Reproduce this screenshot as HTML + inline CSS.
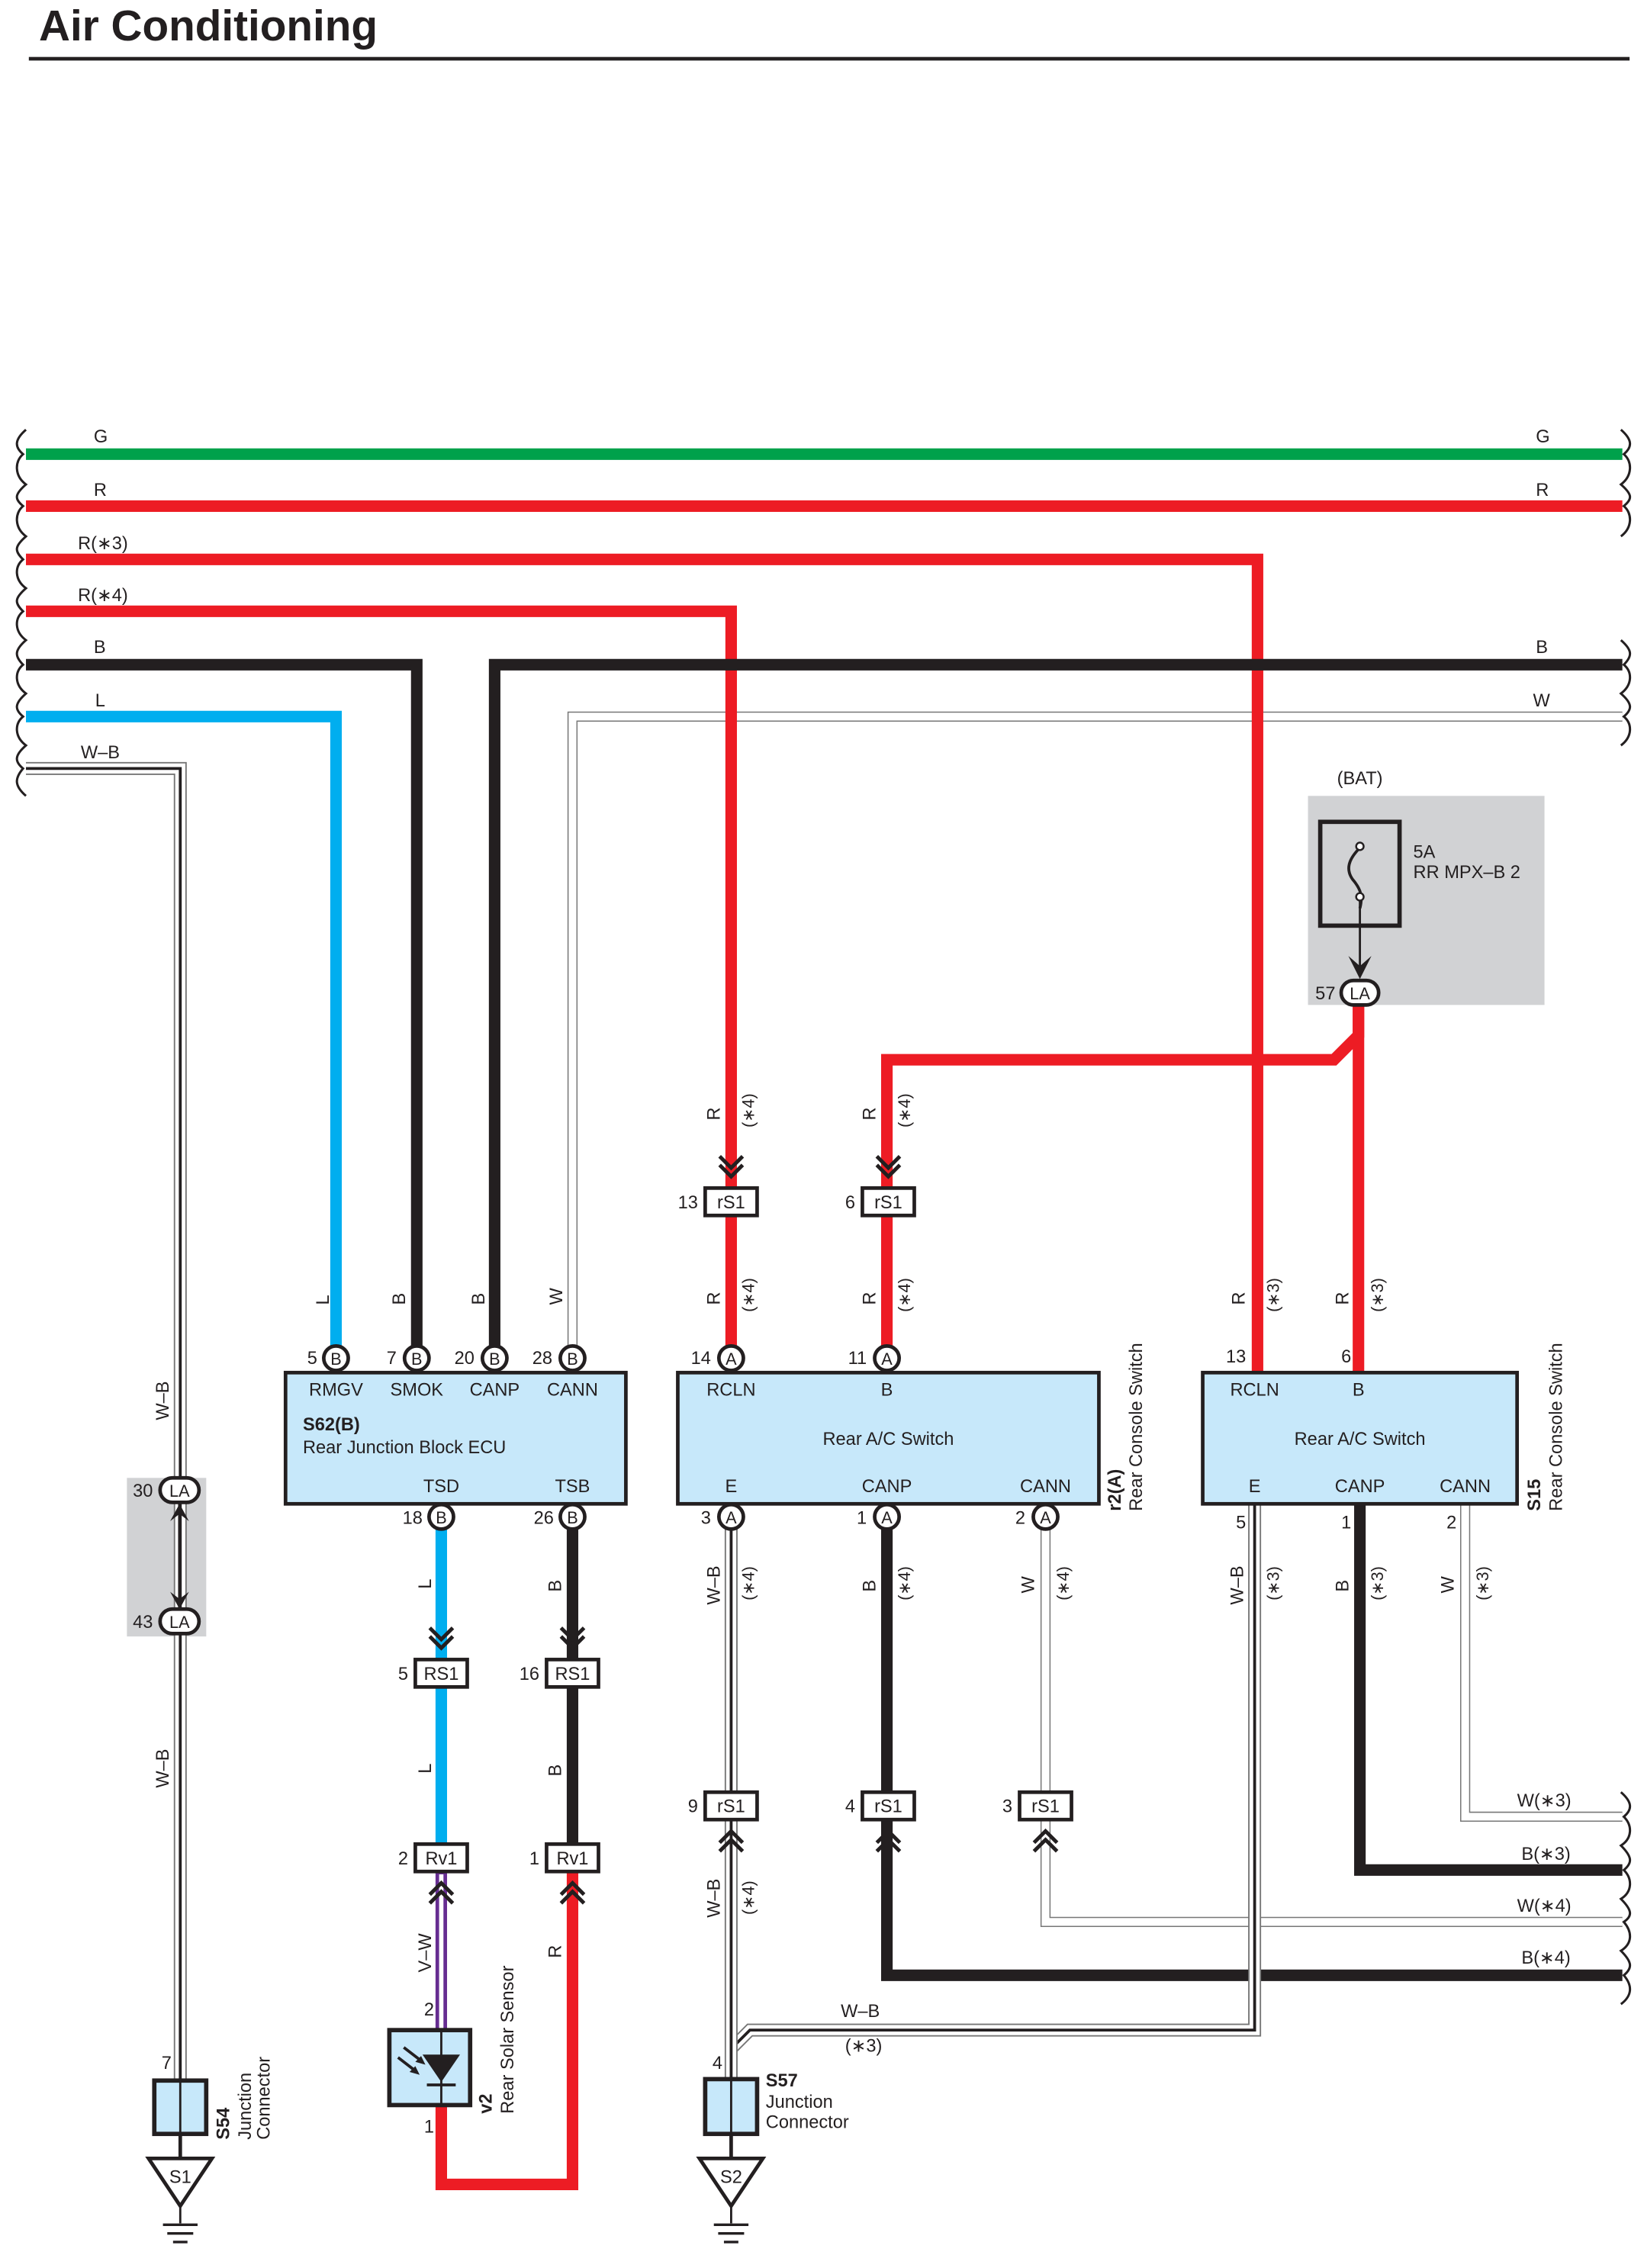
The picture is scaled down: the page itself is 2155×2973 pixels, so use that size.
<!DOCTYPE html>
<html><head><meta charset="utf-8"><style>
html,body{margin:0;padding:0;background:#fff}
svg{display:block}
text{font-family:"Liberation Sans",Arial,sans-serif;fill:#231f20}
.t{font-size:12.5px}
.s{font-size:11.5px}
.b{font-weight:bold}
</style></head><body>
<svg width="2155" height="2973" viewBox="0 0 1140 1573" preserveAspectRatio="none" xmlns="http://www.w3.org/2000/svg">
<defs>
<g id="dn"><polyline points="-8,-22 0,-14 8,-22" fill="none" stroke="#231f20" stroke-width="2.6"/><polyline points="-8,-16 0,-8 8,-16" fill="none" stroke="#231f20" stroke-width="2.6"/></g>
<g id="up"><polyline points="-8,22 0,14 8,22" fill="none" stroke="#231f20" stroke-width="2.6"/><polyline points="-8,16 0,8 8,16" fill="none" stroke="#231f20" stroke-width="2.6"/></g>
</defs>
<text x="27" y="28" font-size="30" class="b" style="font-size:30px">Air Conditioning</text>
<rect x="20" y="39.5" width="1110" height="2.5" fill="#231f20"/>

<!-- gray boxes -->
<rect x="907" y="552" width="164" height="145" fill="#d1d2d4"/>
<rect x="88" y="1025" width="55" height="110" fill="#d1d2d4"/>

<!-- W-B left -->
<g fill="none" stroke-linejoin="miter">
<polyline points="18,533 125,533 125,1445" stroke="#777" stroke-width="9"/>
<polyline points="18,533 125,533 125,1445" stroke="#fff" stroke-width="7"/>
<polyline points="18,533 125,533 125,1445" stroke="#231f20" stroke-width="2"/>
<!-- W top -->
<polyline points="1125,497 397,497 397,942" stroke="#777" stroke-width="7"/>
<polyline points="1125,497 397,497 397,942" stroke="#fff" stroke-width="5.4"/>
<!-- main wires -->
<line x1="18" y1="315" x2="1125" y2="315" stroke="#00a14b" stroke-width="8"/>
<line x1="18" y1="351" x2="1125" y2="351" stroke="#ed1c24" stroke-width="8"/>
<polyline points="18,388 872,388 872,952" stroke="#ed1c24" stroke-width="8"/>
<polyline points="18,424 507,424 507,942" stroke="#ed1c24" stroke-width="8"/>
<polyline points="18,461 289,461 289,942" stroke="#231f20" stroke-width="8"/>
<polyline points="1125,461 343,461 343,942" stroke="#231f20" stroke-width="8"/>
<polyline points="18,497 233,497 233,942" stroke="#00aeef" stroke-width="8"/>
<polyline points="615,942 615,735 925,735 942,718 942,688" stroke="#ed1c24" stroke-width="8"/>
<line x1="942" y1="688" x2="942" y2="952" stroke="#ed1c24" stroke-width="8"/>
<!-- S62 bottom -->
<line x1="306" y1="1052" x2="306" y2="1288" stroke="#00aeef" stroke-width="8"/>
<line x1="397" y1="1052" x2="397" y2="1288" stroke="#231f20" stroke-width="8"/>
<polyline points="397,1288 397,1515 306,1515 306,1460" stroke="#ed1c24" stroke-width="8"/>
<line x1="306" y1="1288" x2="306" y2="1408" stroke="#662d91" stroke-width="8"/>
<line x1="306" y1="1300" x2="306" y2="1408" stroke="#fff" stroke-width="3"/>
<!-- r2 bottom -->
<polyline points="615,1052 615,1370 1125,1370" stroke="#231f20" stroke-width="8"/>
<polyline points="725,1052 725,1333 1125,1333" stroke="#777" stroke-width="7"/>
<polyline points="725,1052 725,1333 1125,1333" stroke="#fff" stroke-width="5.4"/>
<!-- S15 bottom -->
<polyline points="943,1043 943,1297 1125,1297" stroke="#231f20" stroke-width="8"/>
<polyline points="1016,1043 1016,1260 1125,1260" stroke="#777" stroke-width="7"/>
<polyline points="1016,1043 1016,1260 1125,1260" stroke="#fff" stroke-width="5.4"/>
<polyline points="870,1043 870,1408 520,1408 507,1421" stroke="#777" stroke-width="9"/>
<polyline points="870,1043 870,1408 520,1408 507,1421" stroke="#fff" stroke-width="7"/>
<polyline points="870,1043 870,1408 520,1408 507,1421" stroke="#231f20" stroke-width="2"/>
<polyline points="507,1052 507,1445" stroke="#777" stroke-width="9"/>
<polyline points="507,1052 507,1445" stroke="#fff" stroke-width="7"/>
<polyline points="507,1052 507,1445" stroke="#231f20" stroke-width="2"/>
</g>

<!-- wavy ends -->
<g fill="none" stroke="#231f20" stroke-width="1.6">
<path d="M18,298 C10,305 10,310 16,315 C10,320 10,330 18,336 C10,343 10,346 16,351 C10,356 10,366 18,372 C10,379 10,382 16,388 C10,393 10,402 18,408 C10,415 10,418 16,424 C10,429 10,438 18,444 C10,451 10,455 16,461 C10,466 10,475 18,481 C10,488 10,492 16,497 C10,502 10,511 18,517 C10,524 10,528 16,533 C10,540 10,545 18,552"/>
<path d="M1124,298 C1132,305 1132,310 1126,315 C1132,320 1132,330 1124,336 C1132,343 1132,346 1126,351 C1132,356 1132,366 1124,372"/>
<path d="M1124,444 C1132,451 1132,455 1126,461 C1132,466 1132,475 1124,481 C1132,488 1132,492 1126,497 C1132,502 1132,511 1124,517"/>
<path d="M1124,1243 C1132,1250 1132,1255 1126,1260 C1132,1266 1132,1275 1124,1280 C1132,1288 1132,1292 1126,1297 C1132,1303 1132,1312 1124,1317 C1132,1325 1132,1329 1126,1333 C1132,1340 1132,1348 1124,1353 C1132,1361 1132,1365 1126,1370 C1132,1377 1132,1384 1124,1390"/>
</g>

<!-- top wire labels -->
<g class="t">
<text x="65" y="307" class="t">G</text><text x="1065" y="307" class="t">G</text>
<text x="65" y="344" class="t">R</text><text x="1065" y="344" class="t">R</text>
<text x="54" y="381" class="t">R(∗3)</text>
<text x="54" y="417" class="t">R(∗4)</text>
<text x="65" y="453" class="t">B</text><text x="1065" y="453" class="t">B</text>
<text x="66" y="490" class="t">L</text><text x="1063" y="490" class="t">W</text>
<text x="56" y="526" class="t">W–B</text>
<text x="1052" y="1253" class="t">W(∗3)</text>
<text x="1055" y="1290" class="t">B(∗3)</text>
<text x="1052" y="1326" class="t">W(∗4)</text>
<text x="1055" y="1362" class="t">B(∗4)</text>
<text x="583" y="1399" class="t">W–B</text>
<text x="586" y="1423" class="t">(∗3)</text>
</g>

<!-- vertical labels -->
<g class="t">
<text transform="translate(228,905) rotate(-90)" class="t">L</text>
<text transform="translate(281,905) rotate(-90)" class="t">B</text>
<text transform="translate(336,905) rotate(-90)" class="t">B</text>
<text transform="translate(390,905) rotate(-90)" class="t">W</text>
<text transform="translate(499,777) rotate(-90)" class="t">R</text>
<text transform="translate(523,782) rotate(-90)" class="s">(∗4)</text>
<text transform="translate(607,777) rotate(-90)" class="t">R</text>
<text transform="translate(631,782) rotate(-90)" class="s">(∗4)</text>
<text transform="translate(499,905) rotate(-90)" class="t">R</text>
<text transform="translate(523,910) rotate(-90)" class="s">(∗4)</text>
<text transform="translate(607,905) rotate(-90)" class="t">R</text>
<text transform="translate(631,910) rotate(-90)" class="s">(∗4)</text>
<text transform="translate(863,905) rotate(-90)" class="t">R</text>
<text transform="translate(887,910) rotate(-90)" class="s">(∗3)</text>
<text transform="translate(935,905) rotate(-90)" class="t">R</text>
<text transform="translate(959,910) rotate(-90)" class="s">(∗3)</text>
<text transform="translate(117,985) rotate(-90)" class="t">W–B</text>
<text transform="translate(117,1240) rotate(-90)" class="t">W–B</text>
<text transform="translate(299,1102) rotate(-90)" class="t">L</text>
<text transform="translate(389,1104) rotate(-90)" class="t">B</text>
<text transform="translate(299,1230) rotate(-90)" class="t">L</text>
<text transform="translate(389,1232) rotate(-90)" class="t">B</text>
<text transform="translate(299,1368) rotate(-90)" class="t">V–W</text>
<text transform="translate(389,1358) rotate(-90)" class="t">R</text>
<text transform="translate(499,1113) rotate(-90)" class="t">W–B</text>
<text transform="translate(523,1110) rotate(-90)" class="s">(∗4)</text>
<text transform="translate(607,1104) rotate(-90)" class="t">B</text>
<text transform="translate(631,1110) rotate(-90)" class="s">(∗4)</text>
<text transform="translate(717,1105) rotate(-90)" class="t">W</text>
<text transform="translate(741,1110) rotate(-90)" class="s">(∗4)</text>
<text transform="translate(499,1330) rotate(-90)" class="t">W–B</text>
<text transform="translate(523,1328) rotate(-90)" class="s">(∗4)</text>
<text transform="translate(862,1113) rotate(-90)" class="t">W–B</text>
<text transform="translate(887,1110) rotate(-90)" class="s">(∗3)</text>
<text transform="translate(935,1104) rotate(-90)" class="t">B</text>
<text transform="translate(959,1110) rotate(-90)" class="s">(∗3)</text>
<text transform="translate(1008,1105) rotate(-90)" class="t">W</text>
<text transform="translate(1032,1110) rotate(-90)" class="s">(∗3)</text>
</g>

<!-- component boxes -->
<rect x="198" y="952" width="236" height="91" fill="#c7e8fa" stroke="#231f20" stroke-width="2.5"/>
<rect x="470" y="952" width="292" height="91" fill="#c7e8fa" stroke="#231f20" stroke-width="2.5"/>
<rect x="834" y="952" width="218" height="91" fill="#c7e8fa" stroke="#231f20" stroke-width="2.5"/>
<g class="t" text-anchor="middle">
<text x="233" y="968">RMGV</text><text x="289" y="968">SMOK</text><text x="343" y="968">CANP</text><text x="397" y="968">CANN</text>
<text x="306" y="1035">TSD</text><text x="397" y="1035">TSB</text>
<text x="507" y="968">RCLN</text><text x="615" y="968">B</text>
<text x="616" y="1002">Rear A/C Switch</text>
<text x="507" y="1035">E</text><text x="615" y="1035">CANP</text><text x="725" y="1035">CANN</text>
<text x="870" y="968">RCLN</text><text x="942" y="968">B</text>
<text x="943" y="1002">Rear A/C Switch</text>
<text x="870" y="1035">E</text><text x="943" y="1035">CANP</text><text x="1016" y="1035">CANN</text>
</g>
<text x="210" y="992" class="t b">S62(B)</text>
<text x="210" y="1008" class="t">Rear Junction Block ECU</text>
<text transform="translate(777,1048) rotate(-90)" class="t b">r2(A)</text>
<text transform="translate(792,1048) rotate(-90)" class="t">Rear Console Switch</text>
<text transform="translate(1068,1048) rotate(-90)" class="t b">S15</text>
<text transform="translate(1083,1048) rotate(-90)" class="t">Rear Console Switch</text>

<!-- pin circles -->
<g fill="#fff" stroke="#231f20" stroke-width="2.5">
<circle cx="233" cy="942" r="8.5"/><circle cx="289" cy="942" r="8.5"/><circle cx="343" cy="942" r="8.5"/><circle cx="397" cy="942" r="8.5"/>
<circle cx="306" cy="1052" r="8.5"/><circle cx="397" cy="1052" r="8.5"/>
<circle cx="507" cy="942" r="8.5"/><circle cx="615" cy="942" r="8.5"/>
<circle cx="507" cy="1052" r="8.5"/><circle cx="615" cy="1052" r="8.5"/><circle cx="725" cy="1052" r="8.5"/>
<rect x="930" y="680" width="26" height="17" rx="8.5"/>
<rect x="111" y="1025" width="27" height="17" rx="8.5"/>
<rect x="111" y="1116" width="27" height="17" rx="8.5"/>
</g>
<g class="s" text-anchor="middle">
<text x="233" y="946.5">B</text><text x="289" y="946.5">B</text><text x="343" y="946.5">B</text><text x="397" y="946.5">B</text>
<text x="306" y="1056.5">B</text><text x="397" y="1056.5">B</text>
<text x="507" y="946.5">A</text><text x="615" y="946.5">A</text>
<text x="507" y="1056.5">A</text><text x="615" y="1056.5">A</text><text x="725" y="1056.5">A</text>
<text x="943" y="693">LA</text><text x="124.5" y="1038">LA</text><text x="124.5" y="1129">LA</text>
</g>
<g class="t" text-anchor="end">
<text x="220" y="946">5</text><text x="275" y="946">7</text><text x="329" y="946">20</text><text x="383" y="946">28</text>
<text x="293" y="1057">18</text><text x="384" y="1057">26</text>
<text x="493" y="946">14</text><text x="601" y="946">11</text>
<text x="493" y="1057">3</text><text x="601" y="1057">1</text><text x="711" y="1057">2</text>
<text x="864" y="945">13</text><text x="937" y="945">6</text>
<text x="864" y="1060">5</text><text x="937" y="1060">1</text><text x="1010" y="1060">2</text>
<text x="926" y="693">57</text><text x="106" y="1038">30</text><text x="106" y="1129">43</text>
</g>

<!-- LA link arrows -->
<line x1="124.5" y1="1042" x2="124.5" y2="1116" stroke="#231f20" stroke-width="2"/>
<path d="M118,1055 L124.5,1043 L131,1055 L124.5,1050Z M118,1104 L124.5,1116 L131,1104 L124.5,1109Z" fill="#231f20"/>

<!-- fuse -->
<rect x="915.5" y="570" width="55" height="72" fill="none" stroke="#231f20" stroke-width="3"/>
<path d="M943,588 C935,596 933,603 938,610 C944,617 945,622 943,630" fill="none" stroke="#231f20" stroke-width="2"/>
<circle cx="943" cy="587" r="2.6" fill="#fff" stroke="#231f20" stroke-width="1.3"/>
<circle cx="943" cy="622" r="2.6" fill="#fff" stroke="#231f20" stroke-width="1.3"/>
<line x1="943" y1="625" x2="943" y2="675" stroke="#231f20" stroke-width="1.5"/>
<path d="M935,663 L943,679 L951,663 L943,670Z" fill="#231f20"/>
<text x="943" y="544" class="t" text-anchor="middle">(BAT)</text>
<text x="980" y="595" class="t">5A</text>
<text x="980" y="609" class="t">RR MPX–B 2</text>

<!-- inline connectors -->
<g fill="#fff" stroke="#231f20" stroke-width="2.5">
<rect x="489" y="824" width="36" height="19"/><rect x="598" y="824" width="36" height="19"/>
<rect x="288" y="1151" width="36" height="19"/><rect x="379" y="1151" width="36" height="19"/>
<rect x="288" y="1279" width="36" height="19"/><rect x="379" y="1279" width="36" height="19"/>
<rect x="489" y="1243" width="36" height="19"/><rect x="598" y="1243" width="36" height="19"/><rect x="707" y="1243" width="36" height="19"/>
</g>
<g class="t" text-anchor="middle">
<text x="507" y="838">rS1</text><text x="616" y="838">rS1</text>
<text x="306" y="1165">RS1</text><text x="397" y="1165">RS1</text>
<text x="306" y="1293">Rv1</text><text x="397" y="1293">Rv1</text>
<text x="507" y="1257">rS1</text><text x="616" y="1257">rS1</text><text x="725" y="1257">rS1</text>
</g>
<g class="t" text-anchor="end">
<text x="484" y="838">13</text><text x="593" y="838">6</text>
<text x="283" y="1165">5</text><text x="374" y="1165">16</text>
<text x="283" y="1293">2</text><text x="374" y="1293">1</text>
<text x="484" y="1257">9</text><text x="593" y="1257">4</text><text x="702" y="1257">3</text>
</g>
<use href="#dn" x="507" y="824"/><use href="#dn" x="616" y="824"/>
<use href="#dn" x="306" y="1151"/><use href="#dn" x="397" y="1151"/>
<use href="#up" x="306" y="1298"/><use href="#up" x="397" y="1298"/>
<use href="#up" x="507" y="1262"/><use href="#up" x="616" y="1262"/><use href="#up" x="725" y="1262"/>

<!-- solar sensor -->
<rect x="270" y="1408" width="56" height="52" fill="#c7e8fa" stroke="#231f20" stroke-width="3"/>
<line x1="306" y1="1408" x2="306" y2="1460" stroke="#231f20" stroke-width="1.5"/>
<path d="M293,1425 L319,1425 L306,1444Z" fill="#231f20"/>
<line x1="296" y1="1446" x2="316" y2="1446" stroke="#231f20" stroke-width="2"/>
<path d="M280,1420 L293,1430 M276,1427 L289,1437" stroke="#231f20" stroke-width="2"/>
<path d="M295,1432 L288,1430 L292,1426Z M291,1439 L284,1437 L288,1433Z" fill="#231f20"/>
<text x="301" y="1398" class="t" text-anchor="end">2</text>
<text x="301" y="1479" class="t" text-anchor="end">1</text>
<text transform="translate(341,1466) rotate(-90)" class="t b">v2</text>
<text transform="translate(356,1466) rotate(-90)" class="t">Rear Solar Sensor</text>

<!-- junction connectors -->
<rect x="107" y="1443" width="36" height="37" fill="#c7e8fa" stroke="#231f20" stroke-width="3"/>
<line x1="125" y1="1443" x2="125" y2="1480" stroke="#231f20" stroke-width="1.5"/>
<rect x="489" y="1442" width="36" height="38" fill="#c7e8fa" stroke="#231f20" stroke-width="3"/>
<line x1="507" y1="1442" x2="507" y2="1480" stroke="#231f20" stroke-width="1.5"/>
<text x="119" y="1435" class="t" text-anchor="end">7</text>
<text x="501" y="1435" class="t" text-anchor="end">4</text>
<text transform="translate(159,1484) rotate(-90)" class="t b">S54</text>
<text transform="translate(174,1484) rotate(-90)" class="t">Junction</text>
<text transform="translate(187,1484) rotate(-90)" class="t">Connector</text>
<text x="531" y="1447" class="t b">S57</text>
<text x="531" y="1462" class="t">Junction</text>
<text x="531" y="1476" class="t">Connector</text>

<!-- grounds -->
<g fill="none" stroke="#231f20" stroke-width="2.5">
<line x1="125" y1="1480" x2="125" y2="1497"/>
<line x1="507" y1="1480" x2="507" y2="1497"/>
<path d="M103,1497 L147,1497 L125,1530Z" fill="#fff"/>
<path d="M485,1497 L529,1497 L507,1530Z" fill="#fff"/>
<line x1="125" y1="1530" x2="125" y2="1542" stroke-width="1.5"/>
<line x1="507" y1="1530" x2="507" y2="1542" stroke-width="1.5"/>
<path d="M113,1543 h24 M116,1549 h18 M120,1555 h10" stroke-width="1.8"/>
<path d="M495,1543 h24 M498,1549 h18 M502,1555 h10" stroke-width="1.8"/>
</g>
<text x="125" y="1514" class="t" text-anchor="middle">S1</text>
<text x="507" y="1514" class="t" text-anchor="middle">S2</text>
</svg>
</body></html>
